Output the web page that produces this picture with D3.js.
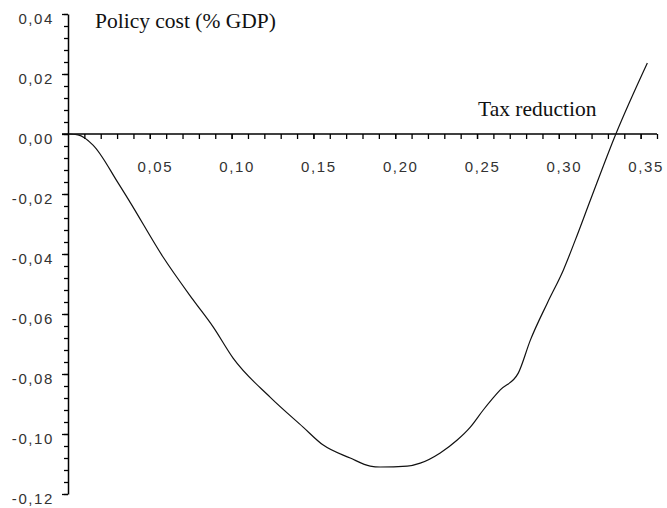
<!DOCTYPE html>
<html>
<head>
<meta charset="utf-8">
<script src="https://cdn.jsdelivr.net/npm/d3@7"></script>
<style>
  html, body { margin: 0; padding: 0; background: #fff; }
  svg { display: block; }
</style>
</head>
<body>
<script>
// ---- data ----
const taxReduction = [0, 0.0061, 0.0153, 0.0306, 0.0379, 0.0581, 0.0765, 0.0887, 0.1009, 0.1235, 0.1437, 0.156, 0.1725, 0.1847, 0.1908, 0.2073, 0.2153, 0.2275, 0.2379, 0.2459, 0.2538, 0.2642, 0.2752, 0.2826, 0.293, 0.3028, 0.3101, 0.3193, 0.3346, 0.3541];
const policyCost   = [0, -0.0003, -0.0037, -0.0163, -0.0227, -0.041, -0.0553, -0.0643, -0.0747, -0.0877, -0.0977, -0.1037, -0.108, -0.1107, -0.111, -0.1107, -0.1097, -0.1063, -0.102, -0.0977, -0.092, -0.0853, -0.0797, -0.0687, -0.0563, -0.0453, -0.0353, -0.022, -0.0003, 0.0237];

const xTickValues = [0.05, 0.10, 0.15, 0.20, 0.25, 0.30, 0.35];
const xTickLabels = ["0,05", "0,10", "0,15", "0,20", "0,25", "0,30", "0,35"];
const yTickValues = [0.04, 0.02, 0.00, -0.02, -0.04, -0.06, -0.08, -0.10, -0.12];
const yTickLabels = ["0,04", "0,02", "0,00", "-0,02", "-0,04", "-0,06", "-0,08", "-0,10", "-0,12"];
const xMinorStep = 0.01;
const yMinorStep = 0.004;
const yAxisTitle = "Policy cost (% GDP)";
const xAxisTitle = "Tax reduction";

// ---- chart ----
const W = 667, H = 508;
const svg = d3.select("body").append("svg").attr("width", W).attr("height", H);

const x = d3.scaleLinear().domain([0, 0.36]).range([68, 657]);
const y = d3.scaleLinear().domain([0.04, -0.12]).range([14, 494]);

const xMinor = d3.range(1, 37).map(i => +(i * xMinorStep).toFixed(3));
const yMinor = d3.range(0, 41).map(i => +(0.04 - i * yMinorStep).toFixed(4));

const labelFont = "'Liberation Sans', Arial, sans-serif";
const serif = "'Liberation Serif', 'Times New Roman', serif";

// Y axis: minor ticks
const gyMinor = svg.append("g").attr("transform", `translate(${x(0)},0)`)
  .call(d3.axisLeft(y).tickValues(yMinor).tickSize(4).tickFormat("").tickSizeOuter(0));
// Y axis: major ticks + labels
const gy = svg.append("g").attr("transform", `translate(${x(0)},0)`)
  .call(d3.axisLeft(y).tickValues(yTickValues).tickSize(6).tickSizeOuter(0)
    .tickFormat((d, i) => yTickLabels[i]));
[gyMinor, gy].forEach(g => {
  g.select(".domain").attr("stroke", "#000").attr("stroke-width", 1.5);
  g.selectAll(".tick line").attr("stroke", "#000").attr("stroke-width", 1.3);
});
gyMinor.select(".domain").remove();
gy.selectAll(".tick text")
  .attr("x", -14).attr("dy", null).attr("y", 9)
  .attr("font-family", labelFont).attr("font-size", 15)
  .attr("letter-spacing", 1.6)
  .attr("fill", "#333").attr("text-anchor", "end");

// X axis at y = 0
const gxMinor = svg.append("g").attr("transform", `translate(0,${y(0)})`)
  .call(d3.axisBottom(x).tickValues(xMinor).tickSize(5).tickFormat("").tickSizeOuter(0));
gxMinor.select(".domain").remove();
gxMinor.selectAll(".tick line").attr("stroke", "#000").attr("stroke-width", 1.3);
const gx = svg.append("g").attr("transform", `translate(0,${y(0)})`)
  .call(d3.axisBottom(x).tickValues(xTickValues).tickSize(5).tickSizeOuter(0)
    .tickFormat((d, i) => xTickLabels[i]));
gx.select(".domain").attr("stroke", "#000").attr("stroke-width", 1.5)
  .attr("d", `M${x(0) - 6},0H${x(0.36)}`);
gx.selectAll(".tick line").attr("stroke", "#000").attr("stroke-width", 1.3);
gx.selectAll(".tick text")
  .attr("dy", null).attr("y", 38).attr("x", 5)
  .attr("font-family", labelFont).attr("font-size", 15)
  .attr("letter-spacing", 1.6)
  .attr("fill", "#333");

// Curve
const pts = taxReduction.map((d, i) => [d, policyCost[i]]);
svg.append("path")
  .datum(pts)
  .attr("fill", "none")
  .attr("stroke", "#111")
  .attr("stroke-width", 1.2)
  .attr("d", d3.line().x(d => x(d[0])).y(d => y(d[1])).curve(d3.curveMonotoneX));

// Titles
svg.append("text").attr("x", 95).attr("y", 28)
  .attr("font-family", serif).attr("font-size", 21.5).attr("fill", "#111")
  .text(yAxisTitle);
svg.append("text").attr("x", 478).attr("y", 116)
  .attr("font-family", serif).attr("font-size", 21.5).attr("fill", "#111")
  .text(xAxisTitle);
</script>
</body>
</html>
